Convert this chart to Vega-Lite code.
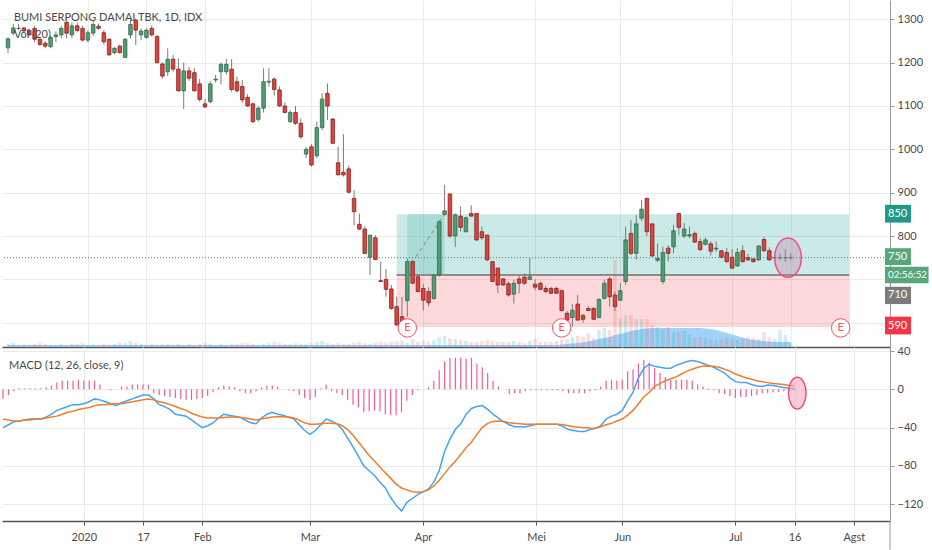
{
  "$schema": "https://vega.github.io/schema/vega-lite/v6.json",
  "background": "white",
  "padding": 0,
  "spacing": 0,
  "bounds": "flush",
  "config": {
    "view": {"stroke": null},
    "font": "Lato",
    "axis": {"labelFont": "Lato", "labelFontSize": 11, "labelColor": "#4a4a4a", "gridColor": "#ebebeb", "tickColor": "#9a9a9a", "domainColor": "#9a9a9a"}
  },
  "datasets": {
    "bars": [
      {"i":0,"o":1234,"h":1258,"l":1222,"c":1255,"v":3,"ma":2,"m":-40,"s":-31,"hs":-10},
      {"i":1,"o":1268,"h":1289,"l":1264,"c":1280,"v":4,"ma":2,"m":-37,"s":-32,"hs":-6},
      {"i":2,"o":1279,"h":1289,"l":1275,"c":1279,"v":2,"ma":2,"m":-34,"s":-33,"hs":-2},
      {"i":3,"o":1280,"h":1282,"l":1270,"c":1273,"v":3,"ma":2,"m":-33,"s":-33,"hs":1},
      {"i":4,"o":1274,"h":1278,"l":1262,"c":1264,"v":2,"ma":2,"m":-32,"s":-32,"hs":1},
      {"i":5,"o":1279,"h":1285,"l":1247,"c":1254,"v":3,"ma":2,"m":-31,"s":-32,"hs":1},
      {"i":6,"o":1254,"h":1256,"l":1238,"c":1242,"v":4,"ma":2,"m":-31,"s":-31,"hs":1},
      {"i":7,"o":1245,"h":1249,"l":1233,"c":1238,"v":3,"ma":2,"m":-31,"s":-31,"hs":1},
      {"i":8,"o":1237,"h":1262,"l":1233,"c":1258,"v":2,"ma":2,"m":-29,"s":-30,"hs":2},
      {"i":9,"o":1260,"h":1272,"l":1247,"c":1264,"v":2,"ma":2,"m":-26,"s":-29,"hs":4},
      {"i":10,"o":1264,"h":1285,"l":1256,"c":1279,"v":3,"ma":2,"m":-22,"s":-28,"hs":7},
      {"i":11,"o":1293,"h":1298,"l":1256,"c":1268,"v":2,"ma":2,"m":-20,"s":-26,"hs":9},
      {"i":12,"o":1264,"h":1292,"l":1256,"c":1285,"v":3,"ma":2,"m":-18,"s":-24,"hs":9},
      {"i":13,"o":1285,"h":1292,"l":1270,"c":1274,"v":3,"ma":2,"m":-16,"s":-23,"hs":9},
      {"i":14,"o":1279,"h":1285,"l":1249,"c":1252,"v":4,"ma":2,"m":-16,"s":-21,"hs":10},
      {"i":15,"o":1252,"h":1275,"l":1247,"c":1269,"v":2,"ma":2,"m":-15,"s":-20,"hs":9},
      {"i":16,"o":1268,"h":1297,"l":1262,"c":1288,"v":3,"ma":2,"m":-13,"s":-19,"hs":9},
      {"i":17,"o":1284,"h":1290,"l":1276,"c":1279,"v":2,"ma":2,"m":-10,"s":-17,"hs":9},
      {"i":18,"o":1269,"h":1275,"l":1242,"c":1248,"v":3,"ma":2,"m":-11,"s":-16,"hs":5},
      {"i":19,"o":1254,"h":1256,"l":1216,"c":1218,"v":2,"ma":2,"m":-13,"s":-16,"hs":0},
      {"i":20,"o":1223,"h":1236,"l":1219,"c":1233,"v":3,"ma":2,"m":-15,"s":-15,"hs":-1},
      {"i":21,"o":1238,"h":1242,"l":1221,"c":1223,"v":4,"ma":2,"m":-17,"s":-15,"hs":0},
      {"i":22,"o":1212,"h":1256,"l":1210,"c":1254,"v":4,"ma":2,"m":-14,"s":-15,"hs":3},
      {"i":23,"o":1264,"h":1299,"l":1256,"c":1288,"v":6,"ma":2,"m":-12,"s":-14,"hs":3},
      {"i":24,"o":1298,"h":1302,"l":1241,"c":1275,"v":4,"ma":2,"m":-10,"s":-13,"hs":5},
      {"i":25,"o":1264,"h":1279,"l":1252,"c":1273,"v":3,"ma":2,"m":-8,"s":-12,"hs":5},
      {"i":26,"o":1258,"h":1279,"l":1256,"c":1275,"v":2,"ma":2,"m":-6,"s":-11,"hs":5},
      {"i":27,"o":1279,"h":1285,"l":1260,"c":1264,"v":3,"ma":2,"m":-6,"s":-10,"hs":5},
      {"i":28,"o":1260,"h":1264,"l":1198,"c":1200,"v":2,"ma":2,"m":-10,"s":-11,"hs":-4},
      {"i":29,"o":1197,"h":1200,"l":1163,"c":1169,"v":3,"ma":2,"m":-16,"s":-13,"hs":-6},
      {"i":30,"o":1179,"h":1233,"l":1169,"c":1208,"v":3,"ma":2,"m":-18,"s":-14,"hs":-7},
      {"i":31,"o":1208,"h":1218,"l":1179,"c":1185,"v":2,"ma":2,"m":-21,"s":-16,"hs":-8},
      {"i":32,"o":1185,"h":1210,"l":1133,"c":1135,"v":3,"ma":2,"m":-26,"s":-18,"hs":-9},
      {"i":33,"o":1135,"h":1200,"l":1093,"c":1181,"v":2,"ma":2,"m":-27,"s":-20,"hs":-10},
      {"i":34,"o":1181,"h":1190,"l":1158,"c":1164,"v":3,"ma":2,"m":-28,"s":-22,"hs":-11},
      {"i":35,"o":1177,"h":1188,"l":1133,"c":1135,"v":2,"ma":2,"m":-32,"s":-25,"hs":-11},
      {"i":36,"o":1151,"h":1162,"l":1110,"c":1115,"v":3,"ma":2,"m":-36,"s":-27,"hs":-10},
      {"i":37,"o":1105,"h":1116,"l":1095,"c":1098,"v":4,"ma":2,"m":-40,"s":-29,"hs":-9},
      {"i":38,"o":1110,"h":1158,"l":1106,"c":1151,"v":3,"ma":2,"m":-38,"s":-30,"hs":-7},
      {"i":39,"o":1160,"h":1172,"l":1154,"c":1162,"v":2,"ma":2,"m":-35,"s":-30,"hs":-3},
      {"i":40,"o":1179,"h":1200,"l":1150,"c":1196,"v":3,"ma":2,"m":-30,"s":-30,"hs":2},
      {"i":41,"o":1179,"h":1208,"l":1173,"c":1196,"v":2,"ma":2,"m":-26,"s":-29.5,"hs":4},
      {"i":42,"o":1185,"h":1208,"l":1133,"c":1138,"v":3,"ma":2,"m":-27,"s":-29,"hs":3},
      {"i":43,"o":1156,"h":1168,"l":1131,"c":1135,"v":3,"ma":2,"m":-28,"s":-29,"hs":2},
      {"i":44,"o":1145,"h":1160,"l":1108,"c":1114,"v":4,"ma":2,"m":-29,"s":-29.5,"hs":-2},
      {"i":45,"o":1120,"h":1127,"l":1098,"c":1100,"v":4,"ma":2,"m":-32,"s":-30,"hs":-4},
      {"i":46,"o":1105,"h":1108,"l":1060,"c":1064,"v":3,"ma":2,"m":-35,"s":-31,"hs":-4},
      {"i":47,"o":1069,"h":1100,"l":1064,"c":1095,"v":2,"ma":2,"m":-36,"s":-32,"hs":-2},
      {"i":48,"o":1095,"h":1187,"l":1085,"c":1156,"v":3,"ma":2,"m":-30,"s":-31,"hs":2},
      {"i":49,"o":1155,"h":1187,"l":1145,"c":1157,"v":4,"ma":2,"m":-26,"s":-30,"hs":4},
      {"i":50,"o":1162,"h":1166,"l":1124,"c":1138,"v":5,"ma":2,"m":-24,"s":-29,"hs":4},
      {"i":51,"o":1137,"h":1145,"l":1098,"c":1100,"v":4,"ma":2,"m":-26,"s":-28.6,"hs":3},
      {"i":52,"o":1100,"h":1108,"l":1083,"c":1085,"v":3,"ma":2,"m":-27,"s":-28.6,"hs":0},
      {"i":53,"o":1064,"h":1090,"l":1060,"c":1085,"v":3,"ma":2,"m":-29,"s":-29,"hs":-1},
      {"i":54,"o":1085,"h":1100,"l":1056,"c":1060,"v":4,"ma":2,"m":-31,"s":-30,"hs":-2},
      {"i":55,"o":1060,"h":1071,"l":1024,"c":1029,"v":3,"ma":2,"m":-37,"s":-32,"hs":-6},
      {"i":56,"o":989,"h":1005,"l":980,"c":1000,"v":3,"ma":2,"m":-43,"s":-35,"hs":-9},
      {"i":57,"o":1006,"h":1012,"l":960,"c":964,"v":4,"ma":2,"m":-47,"s":-36.5,"hs":-11},
      {"i":58,"o":985,"h":1064,"l":979,"c":1050,"v":5,"ma":2,"m":-43,"s":-36.5,"hs":-8},
      {"i":59,"o":1050,"h":1129,"l":1044,"c":1116,"v":6,"ma":2,"m":-37,"s":-36,"hs":1},
      {"i":60,"o":1129,"h":1152,"l":1068,"c":1100,"v":4,"ma":2,"m":-31,"s":-35.5,"hs":5},
      {"i":61,"o":1070,"h":1072,"l":1012,"c":1014,"v":3,"ma":2,"m":-33,"s":-35.5,"hs":-2},
      {"i":62,"o":969,"h":1006,"l":941,"c":941,"v":4,"ma":2,"m":-36,"s":-36,"hs":-4},
      {"i":63,"o":947,"h":1035,"l":937,"c":941,"v":3,"ma":2,"m":-42,"s":-38,"hs":-6},
      {"i":64,"o":955,"h":962,"l":898,"c":901,"v":3,"ma":2,"m":-51,"s":-42,"hs":-11},
      {"i":65,"o":887,"h":906,"l":825,"c":856,"v":4,"ma":2,"m":-60,"s":-48,"hs":-16},
      {"i":66,"o":827,"h":852,"l":814,"c":816,"v":5,"ma":2,"m":-70,"s":-55,"hs":-19},
      {"i":67,"o":816,"h":822,"l":758,"c":760,"v":4,"ma":2,"m":-80,"s":-62,"hs":-24},
      {"i":68,"o":751,"h":802,"l":710,"c":802,"v":3,"ma":2,"m":-85,"s":-69,"hs":-23},
      {"i":69,"o":796,"h":802,"l":744,"c":746,"v":4,"ma":2,"m":-90,"s":-75,"hs":-22},
      {"i":70,"o":697,"h":741,"l":694,"c":695,"v":5,"ma":2,"m":-97,"s":-81,"hs":-23},
      {"i":71,"o":700,"h":724,"l":660,"c":677,"v":4,"ma":2,"m":-103,"s":-87,"hs":-26},
      {"i":72,"o":678,"h":687,"l":630,"c":633,"v":5,"ma":2,"m":-113,"s":-93,"hs":-27},
      {"i":73,"o":637,"h":660,"l":593,"c":595,"v":6,"ma":2,"m":-121,"s":-99,"hs":-27},
      {"i":74,"o":614,"h":660,"l":590,"c":591,"v":6,"ma":2,"m":-127,"s":-103,"hs":-24},
      {"i":75,"o":651,"h":748,"l":614,"c":741,"v":4,"ma":2,"m":-118,"s":-105,"hs":-12},
      {"i":76,"o":741,"h":744,"l":689,"c":691,"v":8,"ma":2,"m":-114,"s":-107,"hs":-6},
      {"i":77,"o":706,"h":710,"l":670,"c":672,"v":5,"ma":2,"m":-110,"s":-107.5,"hs":-1},
      {"i":78,"o":679,"h":689,"l":628,"c":652,"v":6,"ma":2,"m":-107,"s":-107,"hs":0},
      {"i":79,"o":672,"h":682,"l":638,"c":646,"v":5,"ma":2,"m":-104,"s":-105,"hs":2},
      {"i":80,"o":656,"h":712,"l":652,"c":710,"v":7,"ma":2,"m":-97,"s":-101,"hs":9},
      {"i":81,"o":710,"h":836,"l":706,"c":833,"v":10,"ma":2,"m":-85,"s":-95,"hs":20},
      {"i":82,"o":850,"h":918,"l":848,"c":858,"v":11,"ma":2,"m":-65,"s":-88,"hs":29},
      {"i":83,"o":897,"h":898,"l":796,"c":800,"v":9,"ma":2,"m":-52,"s":-81,"hs":33},
      {"i":84,"o":800,"h":852,"l":775,"c":849,"v":8,"ma":2,"m":-42,"s":-75,"hs":33},
      {"i":85,"o":846,"h":868,"l":810,"c":820,"v":7,"ma":2,"m":-36,"s":-68,"hs":33},
      {"i":86,"o":810,"h":845,"l":808,"c":842,"v":6,"ma":2,"m":-26,"s":-61,"hs":32},
      {"i":87,"o":852,"h":871,"l":845,"c":846,"v":5,"ma":2,"m":-20,"s":-55,"hs":33},
      {"i":88,"o":852,"h":852,"l":789,"c":791,"v":5,"ma":2,"m":-18,"s":-47,"hs":27},
      {"i":89,"o":810,"h":822,"l":791,"c":796,"v":6,"ma":2,"m":-17,"s":-40,"hs":23},
      {"i":90,"o":802,"h":803,"l":742,"c":745,"v":7,"ma":2,"m":-21,"s":-35.5,"hs":17},
      {"i":91,"o":741,"h":742,"l":694,"c":695,"v":6,"ma":2,"m":-26,"s":-33.5,"hs":9},
      {"i":92,"o":726,"h":727,"l":668,"c":687,"v":5,"ma":2,"m":-30,"s":-33,"hs":3},
      {"i":93,"o":701,"h":703,"l":685,"c":687,"v":5,"ma":2,"m":-34,"s":-33.5,"hs":0},
      {"i":94,"o":690,"h":695,"l":660,"c":664,"v":5,"ma":2,"m":-37,"s":-35,"hs":-5},
      {"i":95,"o":666,"h":699,"l":644,"c":691,"v":6,"ma":2,"m":-39,"s":-35.5,"hs":-4},
      {"i":96,"o":701,"h":710,"l":668,"c":691,"v":5,"ma":2,"m":-39,"s":-36,"hs":-4},
      {"i":97,"o":705,"h":714,"l":687,"c":691,"v":4,"ma":2,"m":-39,"s":-36.5,"hs":-2},
      {"i":98,"o":700,"h":749,"l":699,"c":706,"v":6,"ma":2,"m":-38,"s":-36.5,"hs":-1},
      {"i":99,"o":689,"h":700,"l":675,"c":682,"v":8,"ma":2,"m":-36.5,"s":-36.5,"hs":-1},
      {"i":100,"o":691,"h":695,"l":675,"c":677,"v":5,"ma":2,"m":-36.5,"s":-36.5,"hs":-1},
      {"i":101,"o":679,"h":685,"l":668,"c":672,"v":5,"ma":2,"m":-36.5,"s":-36.5,"hs":-1},
      {"i":102,"o":679,"h":683,"l":666,"c":668,"v":5,"ma":2,"m":-36.5,"s":-36.5,"hs":-1},
      {"i":103,"o":679,"h":683,"l":666,"c":668,"v":6,"ma":2,"m":-36.5,"s":-36.5,"hs":-1},
      {"i":104,"o":674,"h":676,"l":626,"c":628,"v":7,"ma":2.5,"m":-39,"s":-37,"hs":-2},
      {"i":105,"o":622,"h":627,"l":598,"c":606,"v":8,"ma":3,"m":-42,"s":-38,"hs":-4},
      {"i":106,"o":612,"h":643,"l":591,"c":629,"v":10,"ma":3.5,"m":-43,"s":-39,"hs":-4},
      {"i":107,"o":643,"h":664,"l":605,"c":606,"v":11,"ma":4,"m":-44,"s":-39.5,"hs":-4},
      {"i":108,"o":617,"h":620,"l":600,"c":608,"v":10,"ma":4.5,"m":-44,"s":-40,"hs":-4},
      {"i":109,"o":633,"h":638,"l":627,"c":628,"v":14,"ma":5.5,"m":-42,"s":-40.5,"hs":-2},
      {"i":110,"o":633,"h":636,"l":606,"c":608,"v":9,"ma":6.5,"m":-41,"s":-40.7,"hs":-1},
      {"i":111,"o":612,"h":656,"l":610,"c":654,"v":17,"ma":8,"m":-38,"s":-39,"hs":3},
      {"i":112,"o":656,"h":699,"l":654,"c":691,"v":19,"ma":9,"m":-31,"s":-37,"hs":9},
      {"i":113,"o":701,"h":706,"l":637,"c":660,"v":17,"ma":10,"m":-28,"s":-35.5,"hs":10},
      {"i":114,"o":664,"h":672,"l":627,"c":637,"v":87,"ma":12,"m":-26,"s":-33,"hs":9},
      {"i":115,"o":652,"h":691,"l":650,"c":674,"v":29,"ma":13,"m":-22,"s":-31,"hs":10},
      {"i":116,"o":695,"h":822,"l":687,"c":791,"v":32,"ma":14.5,"m":-12,"s":-27,"hs":19},
      {"i":117,"o":806,"h":837,"l":756,"c":760,"v":32,"ma":16,"m":-3,"s":-22,"hs":21},
      {"i":118,"o":760,"h":848,"l":745,"c":828,"v":28,"ma":17,"m":12,"s":-15,"hs":27},
      {"i":119,"o":841,"h":883,"l":835,"c":862,"v":28,"ma":18,"m":22,"s":-8,"hs":31},
      {"i":120,"o":887,"h":887,"l":800,"c":810,"v":28,"ma":18.5,"m":26,"s":-3,"hs":28},
      {"i":121,"o":828,"h":830,"l":752,"c":754,"v":22,"ma":19,"m":24,"s":3,"hs":22},
      {"i":122,"o":744,"h":783,"l":740,"c":748,"v":20,"ma":19,"m":23,"s":6,"hs":17},
      {"i":123,"o":695,"h":775,"l":689,"c":762,"v":18,"ma":19,"m":22,"s":9,"hs":13},
      {"i":124,"o":772,"h":779,"l":741,"c":760,"v":20,"ma":19,"m":22,"s":11,"hs":10},
      {"i":125,"o":775,"h":826,"l":760,"c":812,"v":15,"ma":19,"m":25,"s":13,"hs":10},
      {"i":126,"o":852,"h":852,"l":802,"c":820,"v":15,"ma":19,"m":27,"s":16,"hs":10},
      {"i":127,"o":800,"h":830,"l":795,"c":816,"v":16,"ma":19,"m":29,"s":19,"hs":10},
      {"i":128,"o":800,"h":822,"l":795,"c":803,"v":12,"ma":19,"m":30,"s":21,"hs":9},
      {"i":129,"o":806,"h":810,"l":784,"c":786,"v":10,"ma":19,"m":29,"s":23,"hs":5},
      {"i":130,"o":787,"h":795,"l":765,"c":769,"v":10,"ma":19,"m":27,"s":24,"hs":3},
      {"i":131,"o":781,"h":796,"l":779,"c":791,"v":9,"ma":18.5,"m":25,"s":24.3,"hs":1},
      {"i":132,"o":782,"h":788,"l":755,"c":765,"v":8,"ma":18,"m":23,"s":24,"hs":-1},
      {"i":133,"o":770,"h":788,"l":764,"c":772,"v":7,"ma":17,"m":20,"s":23,"hs":-4},
      {"i":134,"o":766,"h":768,"l":750,"c":751,"v":8,"ma":15.5,"m":17,"s":21,"hs":-5},
      {"i":135,"o":762,"h":772,"l":738,"c":741,"v":9,"ma":14,"m":12,"s":19,"hs":-7},
      {"i":136,"o":751,"h":770,"l":724,"c":726,"v":8,"ma":12.5,"m":8,"s":16,"hs":-9},
      {"i":137,"o":731,"h":772,"l":729,"c":762,"v":7,"ma":11,"m":7,"s":14,"hs":-8},
      {"i":138,"o":766,"h":779,"l":738,"c":741,"v":8,"ma":9.5,"m":7,"s":12,"hs":-8},
      {"i":139,"o":750,"h":759,"l":742,"c":745,"v":10,"ma":8,"m":5,"s":10.5,"hs":-7},
      {"i":140,"o":747,"h":750,"l":739,"c":741,"v":9,"ma":7,"m":3.5,"s":9,"hs":-6},
      {"i":141,"o":745,"h":779,"l":743,"c":777,"v":8,"ma":6.5,"m":3,"s":8,"hs":-4},
      {"i":142,"o":792,"h":798,"l":764,"c":766,"v":15,"ma":6,"m":4.5,"s":7,"hs":-4},
      {"i":143,"o":766,"h":774,"l":743,"c":745,"v":10,"ma":5.5,"m":4,"s":6,"hs":-3},
      {"i":144,"o":750,"h":756,"l":746,"c":750,"v":8,"ma":5,"m":3,"s":5.5,"hs":-3},
      {"i":145,"o":750,"h":760,"l":745,"c":750,"v":17,"ma":5,"m":2,"s":5,"hs":-2},
      {"i":146,"o":750,"h":770,"l":740,"c":750,"v":12,"ma":5,"m":1,"s":4,"hs":-1},
      {"i":147,"o":750,"h":760,"l":745,"c":750,"v":4,"ma":5,"m":0.5,"s":3.8,"hs":-1}
    ],
    "boxes": [
      {"x1":73,"x2":158,"y1":710,"y2":850,"k":"profit"},
      {"x1":73,"x2":158,"y1":590,"y2":710,"k":"loss"},
      {"x1":75,"x2":82,"y1":710,"y2":850,"k":"active"}
    ],
    "earnings": [
      {"i":75,"p":588},
      {"i":104,"p":588},
      {"i":156.4,"p":588}
    ],
    "tags": [
      {"x1":164.72,"x2":169.6,"y1":831,"y2":872,"ty":850,"t":"850","k":"tp"},
      {"x1":164.72,"x2":169.6,"y1":733,"y2":772,"ty":752,"t":"750","k":"last"},
      {"x1":164.72,"x2":172.9,"y1":691,"y2":729,"ty":710,"t":"02:56:52","k":"last"},
      {"x1":164.72,"x2":169.6,"y1":643,"y2":683,"ty":663,"t":"710","k":"entry"},
      {"x1":164.72,"x2":169.6,"y1":573,"y2":614,"ty":593,"t":"590","k":"sl"}
    ]
  },
  "vconcat": [
    {
      "width": 888,
      "height": 347,
      "layer": [
        {
          "data": {"name": "bars"},
          "layer": [
            {
              "mark": {"type": "area", "color": "#90caf9", "opacity": 0.85},
              "encoding": {
                "x": {"field": "i", "type": "quantitative", "scale": {"domain": [-0.19, 164.72], "nice": false, "zero": false}, "title": null},
                "y": {"field": "ma", "type": "quantitative", "scale": {"domain": [0, 347], "nice": false}, "axis": null}
              }
            },
            {
              "mark": {"type": "bar", "orient": "vertical", "width": 3.6},
              "encoding": {
                "x": {"field": "i", "type": "quantitative", "title": null},
                "y": {"field": "v", "type": "quantitative", "axis": null},
                "color": {"condition": {"test": "datum.c >= datum.o", "value": "#26a69a"}, "value": "#ef5350"},
                "opacity": {"value": 0.2}
              }
            }
          ]
        },
        {
          "layer": [
            {
              "data": {"name": "boxes"},
              "mark": {"type": "rect"},
              "encoding": {
                "x": {"field": "x1", "type": "quantitative", "title": null},
                "x2": {"field": "x2"},
                "y": {"field": "y1", "type": "quantitative", "scale": {"domain": [544, 1344.5], "nice": false, "zero": false}, "title": null},
                "y2": {"field": "y2"},
                "color": {"field": "k", "type": "nominal", "scale": {"domain": ["profit", "loss", "active"], "range": ["#26a69a", "#f7525f", "#26a69a"]}, "legend": null},
                "opacity": {"field": "k", "type": "nominal", "scale": {"domain": ["profit", "loss", "active"], "range": [0.24, 0.2, 0.28]}, "legend": null}
              }
            },
            {
              "data": {"values": [{}]},
              "mark": {"type": "rule", "color": "#8c8c8c", "strokeWidth": 2},
              "encoding": {
                "x": {"datum": 73, "type": "quantitative"},
                "x2": {"datum": 158},
                "y": {"datum": 710, "type": "quantitative"}
              }
            },
            {
              "data": {"values": [{}]},
              "mark": {"type": "rule", "color": "#9a9a9a", "strokeDash": [4, 3], "strokeWidth": 1.2},
              "encoding": {
                "x": {"datum": 76.6, "type": "quantitative"},
                "x2": {"datum": 82},
                "y": {"datum": 752, "type": "quantitative"},
                "y2": {"datum": 850}
              }
            },
            {
              "data": {"values": [{}]},
              "mark": {"type": "rule", "color": "#43896a", "strokeDash": [1, 2], "strokeWidth": 1},
              "encoding": {
                "y": {"datum": 750, "type": "quantitative"}
              }
            },
            {
              "data": {"name": "bars"},
              "mark": {"type": "rule", "color": "#7a7a7a", "strokeWidth": 1},
              "encoding": {
                "x": {
                  "field": "i", "type": "quantitative", "title": null,
                  "axis": {"orient": "bottom", "values": [15, 26, 37, 57, 78, 99, 115, 136, 147, 158], "labels": false, "ticks": false, "grid": true, "domain": true, "domainColor": "#555555", "domainWidth": 1.5}
                },
                "y": {
                  "field": "l", "type": "quantitative", "title": null,
                  "axis": {"orient": "right", "values": [600, 700, 800, 900, 1000, 1100, 1200, 1300], "format": "d", "labelExpr": "datum.value < 750 ? '' : datum.label", "grid": true, "tickSize": 4, "labelPadding": 3}
                },
                "y2": {"field": "h"}
              }
            },
            {
              "data": {"name": "bars"},
              "mark": {"type": "bar", "orient": "vertical", "width": 3.6, "strokeWidth": 0.7},
              "encoding": {
                "x": {"field": "i", "type": "quantitative", "title": null},
                "y": {"field": "o", "type": "quantitative", "title": null},
                "y2": {"field": "c"},
                "fill": {"condition": {"test": "datum.c >= datum.o", "value": "#4f9d73"}, "value": "#de433e"},
                "stroke": {"condition": {"test": "datum.c >= datum.o", "value": "#2d5f43"}, "value": "#6e1c19"},
                "opacity": {"value": 1}
              }
            },
            {
              "data": {"name": "earnings"},
              "mark": {"type": "point", "shape": "circle", "size": 340, "filled": true, "fill": "white", "stroke": "#f7525f", "strokeWidth": 1, "opacity": 1},
              "encoding": {
                "x": {"field": "i", "type": "quantitative", "title": null},
                "y": {"field": "p", "type": "quantitative", "title": null}
              }
            },
            {
              "data": {"name": "earnings"},
              "mark": {"type": "text", "text": "E", "color": "#f7525f", "fontSize": 11, "baseline": "middle", "align": "center"},
              "encoding": {
                "x": {"field": "i", "type": "quantitative", "title": null},
                "y": {"field": "p", "type": "quantitative", "title": null}
              }
            },
            {
              "data": {"values": [{}]},
              "mark": {"type": "point", "shape": "M0,-1C0.374,-1,0.677,-0.552,0.677,0C0.677,0.552,0.374,1,0,1C-0.374,1,-0.677,0.552,-0.677,0C-0.677,-0.552,-0.374,-1,0,-1Z", "size": 1545, "filled": true, "fill": "#c77fa2", "fillOpacity": 0.35, "stroke": "#ee4f86", "strokeWidth": 1.5, "opacity": 1},
              "encoding": {
                "x": {"datum": 146.5, "type": "quantitative"},
                "y": {"datum": 750, "type": "quantitative"}
              }
            },
            {
              "data": {"name": "tags"},
              "mark": {"type": "rect"},
              "encoding": {
                "x": {"field": "x1", "type": "quantitative", "title": null},
                "x2": {"field": "x2"},
                "y": {"field": "y1", "type": "quantitative", "title": null},
                "y2": {"field": "y2"},
                "fill": {"field": "k", "type": "nominal", "scale": {"domain": ["tp", "last", "entry", "sl"], "range": ["#1e9a8a", "#58a77c", "#7b7b7b", "#f23645"]}, "legend": null},
                "opacity": {"value": 1}
              }
            },
            {
              "data": {"name": "tags"},
              "mark": {"type": "text", "color": "white", "align": "left", "baseline": "middle", "dx": 3},
              "encoding": {
                "x": {"field": "x1", "type": "quantitative", "title": null},
                "y": {"field": "ty", "type": "quantitative", "title": null},
                "text": {"field": "t"},
                "size": {"condition": {"test": "datum.k == 'last' && datum.ty == 710", "value": 9.8}, "value": 11}
              }
            },
            {
              "data": {"values": [{}]},
              "mark": {"type": "text", "text": "BUMI SERPONG DAMAI TBK, 1D, IDX", "color": "#4a4a4a", "fontSize": 11, "align": "left", "baseline": "middle"},
              "encoding": {
                "x": {"datum": 1.11, "type": "quantitative"},
                "y": {"datum": 1303, "type": "quantitative"}
              }
            },
            {
              "data": {"values": [{}]},
              "mark": {"type": "text", "text": "Vol (20)", "color": "#4a4a4a", "fontSize": 11, "align": "left", "baseline": "middle"},
              "encoding": {
                "x": {"datum": 1.11, "type": "quantitative"},
                "y": {"datum": 1264, "type": "quantitative"}
              }
            }
          ]
        }
      ],
      "resolve": {"scale": {"y": "independent"}}
    },
    {
      "width": 888,
      "height": 174,
      "layer": [
        {
          "data": {"name": "bars"},
          "mark": {"type": "rule", "color": "#f45b93", "strokeWidth": 1.2},
          "encoding": {
            "x": {
              "field": "i", "type": "quantitative", "title": null,
              "scale": {"domain": [-0.19, 164.72], "nice": false, "zero": false},
              "axis": {
                "orient": "bottom", "values": [15, 26, 37, 57, 78, 99, 115, 136, 147, 158],
                "labelExpr": "datum.value == 15 ? '2020' : datum.value == 26 ? '17' : datum.value == 37 ? 'Feb' : datum.value == 57 ? 'Mar' : datum.value == 78 ? 'Apr' : datum.value == 99 ? 'Mei' : datum.value == 115 ? 'Jun' : datum.value == 136 ? 'Jul' : datum.value == 147 ? '16' : 'Agst'",
                "labelOverlap": false, "labelFlush": false, "grid": true, "ticks": true, "tickSize": 4, "tickColor": "#555555",
                "domain": true, "domainColor": "#555555", "domainWidth": 1.5, "labelPadding": 6
              }
            },
            "y": {
              "field": "hs", "type": "quantitative", "title": null,
              "scale": {"domain": [-137.5, 44.2], "nice": false, "zero": false},
              "axis": {"orient": "right", "values": [40, 0, -40, -80, -120], "format": "d", "grid": true, "tickSize": 4, "labelPadding": 3}
            },
            "y2": {"datum": 0}
          }
        },
        {
          "data": {"name": "bars"},
          "mark": {"type": "line", "color": "#42a5f5", "strokeWidth": 1.5},
          "encoding": {
            "x": {"field": "i", "type": "quantitative", "title": null},
            "y": {"field": "m", "type": "quantitative", "title": null}
          }
        },
        {
          "data": {"name": "bars"},
          "mark": {"type": "line", "color": "#f57c2a", "strokeWidth": 1.5},
          "encoding": {
            "x": {"field": "i", "type": "quantitative", "title": null},
            "y": {"field": "s", "type": "quantitative", "title": null}
          }
        },
        {
          "data": {"values": [{}]},
          "mark": {"type": "point", "shape": "M0,-1C0.307,-1,0.555,-0.552,0.555,0C0.555,0.552,0.307,1,0,1C-0.307,1,-0.555,0.552,-0.555,0C-0.555,-0.552,-0.307,-1,0,-1Z", "size": 1005, "filled": true, "fill": "#f7a8c0", "fillOpacity": 0.6, "stroke": "#ee4f86", "strokeWidth": 1.5, "opacity": 1},
          "encoding": {
            "x": {"datum": 147.5, "type": "quantitative"},
            "y": {"datum": -3.9, "type": "quantitative"}
          }
        },
        {
          "data": {"values": [{}]},
          "mark": {"type": "rule", "color": "#9a9a9a", "strokeWidth": 1},
          "encoding": {
            "x": {"datum": 164.72, "type": "quantitative"},
            "y": {"datum": -137.5, "type": "quantitative"},
            "y2": {"datum": -167.5}
          }
        },
        {
          "data": {"values": [{}]},
          "mark": {"type": "text", "text": "MACD (12, 26, close, 9)", "color": "#4a4a4a", "fontSize": 11, "align": "left", "baseline": "middle"},
          "encoding": {
            "x": {"datum": 1.11, "type": "quantitative"},
            "y": {"datum": 24.3, "type": "quantitative"}
          }
        }
      ]
    }
  ]
}
